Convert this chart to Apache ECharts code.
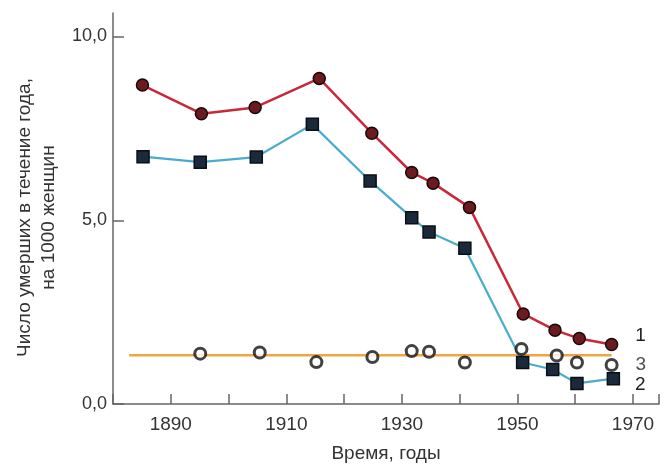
<!DOCTYPE html>
<html>
<head>
<meta charset="utf-8">
<script src="https://cdn.jsdelivr.net/npm/echarts@6/dist/echarts.min.js"></script>
<style>
  html, body { margin: 0; padding: 0; background: #fff; }
  #main { width: 664px; height: 471px; }
</style>
</head>
<body>
<div id="main"></div>
<script>
// кривая 1 - общая смертность
var years1 = [1885.1, 1895.3, 1904.6, 1915.7, 1924.8, 1931.7, 1935.4, 1941.7, 1951.0, 1956.5, 1960.7, 1966.3];
var vals1 = [8.68, 7.90, 8.07, 8.86, 7.37, 6.30, 6.01, 5.35, 2.45, 2.01, 1.78, 1.62];
// кривая 2
var years2 = [1885.2, 1895.1, 1904.8, 1914.5, 1924.5, 1931.7, 1934.7, 1940.9, 1950.9, 1956.1, 1960.3, 1966.6];
var vals2 = [6.73, 6.58, 6.72, 7.61, 6.07, 5.07, 4.68, 4.24, 1.13, 0.94, 0.56, 0.69];
// точки 3
var years3 = [1895.1, 1905.4, 1915.2, 1924.9, 1931.7, 1934.7, 1940.9, 1950.7, 1956.8, 1960.3, 1966.3];
var vals3 = [1.37, 1.40, 1.14, 1.28, 1.44, 1.42, 1.13, 1.50, 1.32, 1.13, 1.06];
// уровень (горизонтальная линия)
var levelYears = [1882.8, 1966.3];
var levelVal = 1.33;
// подписи кривых
var curveNames = ['1', '2', '3'];

var FONT = 'Liberation Sans, Arial, sans-serif';

function pairs(xs, ys) {
  return xs.map(function (x, i) { return [x, ys[i]]; });
}

// подпись на последней точке
function withEndLabel(data, text, offset) {
  var last = data[data.length - 1];
  data[data.length - 1] = {
    value: last,
    label: {
      show: true,
      position: 'right',
      formatter: text,
      offset: offset,
      color: '#222',
      fontSize: 19,
      fontFamily: FONT
    }
  };
  return data;
}

var chart = echarts.init(document.getElementById('main'));

var option = {
  backgroundColor: '#fff',
  animation: false,
  grid: {
    left: 113,
    right: 5,
    top: 13,
    bottom: 67
  },
  xAxis: {
    type: 'value',
    min: 1880,
    max: 1974.5,
    interval: 10,
    name: 'Время, годы',
    nameLocation: 'middle',
    nameGap: 40,
    nameTextStyle: { color: '#333', fontSize: 19, fontFamily: FONT },
    axisLine: { lineStyle: { color: '#666', width: 1.5 } },
    axisTick: { inside: true, length: 10, lineStyle: { color: '#666', width: 1.5 } },
    axisLabel: {
      margin: 11,
      color: '#333',
      fontSize: 19,
      fontFamily: FONT,
      formatter: function (v) { return (v % 20 === 10) ? String(v) : ''; }
    },
    splitLine: { show: false }
  },
  yAxis: {
    type: 'value',
    min: 0,
    max: 10.64,
    interval: 5,
    name: 'Число умерших в течение года,\nна 1000 женщин',
    nameLocation: 'middle',
    nameGap: 50,
    nameTextStyle: { color: '#333', fontSize: 19, lineHeight: 24, fontFamily: FONT, padding: [0, 18, 0, 0] },
    axisLine: { show: true, lineStyle: { color: '#666', width: 1.5 } },
    axisTick: { show: true, inside: true, length: 11, lineStyle: { color: '#666', width: 1.5 } },
    axisLabel: {
      margin: 6,
      color: '#333',
      fontSize: 18,
      fontFamily: FONT,
      showMaxLabel: false,
      formatter: function (v) { return (v % 5 === 0) ? v.toFixed(1).replace('.', ',') : ''; }
    },
    splitLine: { show: false }
  },
  series: [
    {
      type: 'line',
      data: pairs(levelYears, [levelVal, levelVal]),
      showSymbol: false,
      symbol: 'none',
      lineStyle: { color: '#f2a444', width: 2.5 },
      z: 1
    },
    {
      type: 'line',
      data: withEndLabel(pairs(years1, vals1), curveNames[0], [12, -9]),
      symbol: 'circle',
      symbolSize: 12,
      itemStyle: { color: '#6b1a20', borderColor: '#1a0808', borderWidth: 1.5 },
      lineStyle: { color: '#c8283a', width: 2.5 },
      z: 3
    },
    {
      type: 'line',
      data: withEndLabel(pairs(years2, vals2), curveNames[1], [10, 6]),
      symbol: 'rect',
      symbolSize: 12,
      itemStyle: { color: '#1b2a3a', borderColor: '#0a0f16', borderWidth: 1.5 },
      lineStyle: { color: '#4aaccc', width: 2.2 },
      z: 3
    },
    {
      type: 'scatter',
      data: withEndLabel(pairs(years3, vals3), curveNames[2], [12, 0]),
      symbol: 'circle',
      symbolSize: 11,
      itemStyle: { color: '#fff', borderColor: '#111', borderWidth: 3 },
      z: 4
    }
  ]
};

chart.setOption(option);
</script>
</body>
</html>
